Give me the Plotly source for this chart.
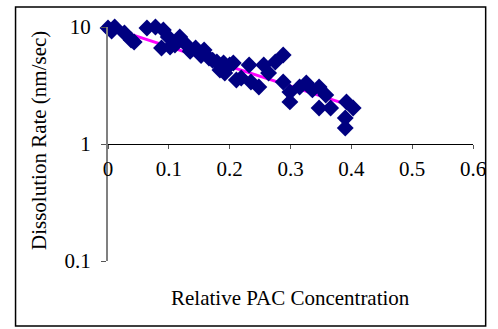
import plotly.graph_objects as go

# Data
conc = [0.000, 0.011, 0.006, 0.027, 0.038, 0.043, 0.064, 0.078, 0.091, 0.099,
        0.088, 0.102, 0.118, 0.110, 0.126, 0.144, 0.158, 0.166, 0.179, 0.190,
        0.200, 0.184, 0.192, 0.206, 0.211, 0.219, 0.232, 0.235, 0.248, 0.256,
        0.264, 0.288, 0.275, 0.288, 0.299, 0.299, 0.315, 0.326, 0.336, 0.347,
        0.358, 0.347, 0.366, 0.392, 0.403, 0.390, 0.390, 0.135, 0.153, 0.172]
rate = [9.80, 10.0, 9.24, 8.89, 7.74, 7.45, 9.80, 10.0, 9.43, 8.22,
        6.62, 6.75, 8.22, 7.02, 7.30, 6.62, 6.36, 5.43, 5.02, 4.92,
        4.73, 4.29, 4.04, 4.92, 3.52, 3.67, 4.73, 3.39, 3.07, 4.73,
        4.04, 5.76, 5.02, 3.39, 2.29, 2.78, 3.07, 3.32, 2.90, 3.07,
        2.62, 2.03, 2.03, 2.29, 2.03, 1.67, 1.37, 6.20, 5.70, 5.20]
fit_x = [0.0, 0.40]
fit_y = [10.0, 2.12]

x_ticks = [0, 0.1, 0.2, 0.3, 0.4, 0.5, 0.6]
x_tick_text = ["0", "0.1", "0.2", "0.3", "0.4", "0.5", "0.6"]
y_ticks = [0.1, 1, 10]
y_tick_text = ["0.1", "1", "10"]

FONT = "Liberation Serif, Times New Roman, serif"

fig = go.Figure()
fig.add_trace(go.Scatter(x=fit_x, y=fit_y, mode="lines",
                         line=dict(color="#FF00FF", width=3), showlegend=False))
fig.add_trace(go.Scatter(x=conc, y=rate, mode="markers", cliponaxis=False,
                         marker=dict(symbol="diamond", size=13, color="#000080",
                                     line=dict(width=0)),
                         showlegend=False))

fig.update_layout(
    width=498, height=329,
    margin=dict(l=108, r=15, t=27, b=68),
    paper_bgcolor="white", plot_bgcolor="white",
    font=dict(family=FONT, size=20, color="black"),
    xaxis=dict(range=[0, 0.6], tickvals=x_ticks, ticktext=x_tick_text,
               showgrid=False, zeroline=False, showline=True, linecolor="black",
               linewidth=1, ticks="outside", ticklen=4, tickcolor="#555555",
               anchor="free", position=0.5, tickfont=dict(size=21),
               ticklabelstandoff=2),
    yaxis=dict(type="log", range=[-1, 1], tickvals=y_ticks, ticktext=y_tick_text,
               showgrid=False, zeroline=False, showline=True, linecolor="#808080",
               linewidth=2, ticks="outside", ticklen=5, tickcolor="#555555",
               ticklabelstandoff=6, tickfont=dict(size=21)),
    shapes=[dict(type="rect", xref="paper", yref="paper",
                 x0=-0.2533, x1=1.0347, y0=-0.2778, y1=1.0855,
                 line=dict(color="black", width=1.5))],
    annotations=[
        dict(text="Relative PAC Concentration", xref="paper", yref="paper",
             x=0.5, y=-0.158, showarrow=False, font=dict(size=21),
             xanchor="center", yanchor="middle"),
        dict(text="Dissolution Rate (nm/sec)", xref="paper", yref="paper",
             x=-0.189, y=0.513, showarrow=False, textangle=-90, font=dict(size=21),
             xanchor="center", yanchor="middle"),
    ],
)

fig.write_html("out.html")
